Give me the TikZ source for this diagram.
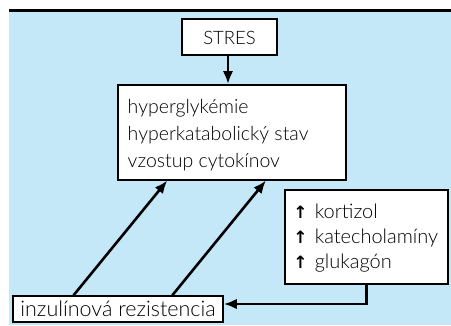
\documentclass[tikz,border=0pt]{standalone}
\usepackage{fontspec}
\setmainfont{Lato Light}
\newfontfamily\symfont{DejaVu Sans}
\usetikzlibrary{arrows.meta,calc}
\definecolor{bgblue}{RGB}{197,232,248}
\tikzset{
  box/.style={draw=black, line width=1.5pt, fill=white, inner sep=0pt},
  conn/.style={line width=2.6pt, -{Latex[length=13pt,width=10.5pt]}},
}
\newcommand{\upar}{\makebox[20pt][l]{\hspace{-1.5pt}\symfont\bfseries\fontsize{17}{17}\selectfont ↑}}
\begin{document}
\begin{tikzpicture}[x=1pt,y=-1pt]
\useasboundingbox (0,0) rectangle (451,325);
\fill[white] (0,0) rectangle (451,325);
\fill[bgblue] (9,11) rectangle (451,325);
\draw[line width=3pt] (9,10.5) -- (451,10.5);
\node[box, font=\fontsize{18.5}{22}\selectfont, minimum width=95pt, minimum height=36pt, text height=14pt, text depth=0pt] (stres) at (229.5,37) {STRES};
\node[box, font=\fontsize{19.5}{27}\selectfont, minimum width=228pt, text height=29pt, text depth=66pt, anchor=north west] (hyp) at (117,84)
  {\begin{tabular}[t]{@{}p{208pt}@{}}hyperglykémie\\hyperkatabolický stav\\vzostup cytokínov\end{tabular}};
\node[box, font=\fontsize{20}{25}\selectfont, minimum width=163pt, text height=29pt, text depth=65pt, anchor=north west] (horm) at (284,189)
  {\begin{tabular}[t]{@{}p{143pt}@{}}\upar kortizol\\\upar katecholamíny\\\upar glukagón\end{tabular}};
\node[box, font=\fontsize{21.5}{24}\selectfont, minimum width=210pt, minimum height=26pt] (inz) at (118,309) {inzulínová rezistencia};
\draw[conn] ($(stres.south)+(-1.5,0)$) -- ($(stres.south |- hyp.north)+(-1.5,0)$);
\draw[conn] ($(inz.north west)!0.29!(inz.north east)$) -- ($(hyp.south west)!0.219!(hyp.south east)$);
\draw[conn] ($(inz.north west)!0.757!(inz.north east)$) -- ($(hyp.south west)!0.649!(hyp.south east)$);
\draw[conn] (horm.south) |- ($(inz.east)+(0,-5)$);
\end{tikzpicture}
\end{document}
